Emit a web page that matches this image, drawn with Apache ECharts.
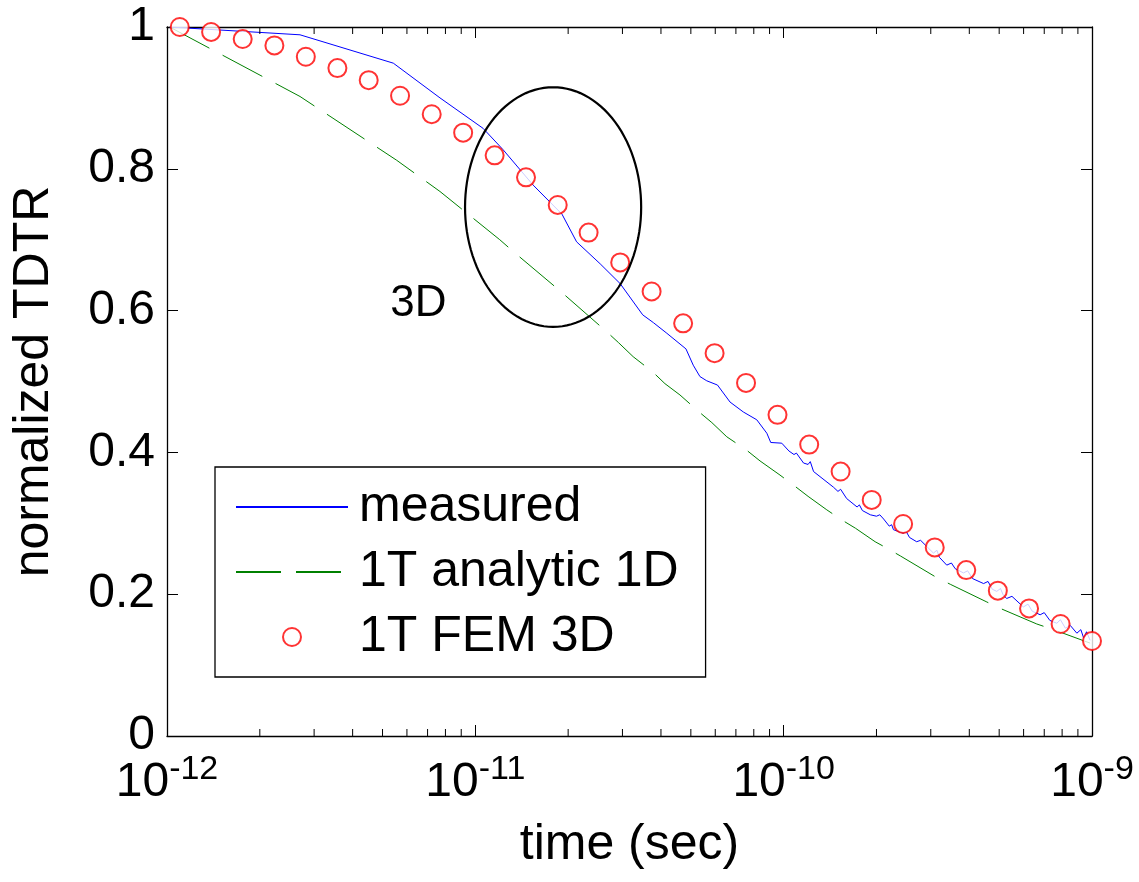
<!DOCTYPE html>
<html>
<head>
<meta charset="utf-8">
<title>normalized TDTR</title>
<script src="https://cdn.jsdelivr.net/npm/echarts@6/dist/echarts.min.js"></script>
<style>
  html, body { margin: 0; padding: 0; background: #fff; }
  #chart { width: 1139px; height: 882px; }
</style>
</head>
<body>
<div id="chart"></div>
<script>
var FONT = '"Liberation Sans", Arial, Helvetica, sans-serif';

// measured TDTR trace (time in s, normalized signal)
var measuredTime = [1.02e-12, 2.70e-12, 5.42e-12, 7.68e-12, 1.06e-11, 1.23e-11, 1.54e-11, 1.91e-11, 2.13e-11, 2.54e-11,
  2.95e-11, 3.49e-11, 3.78e-11, 4.18e-11, 4.82e-11, 5.09e-11, 5.35e-11, 5.63e-11, 6.10e-11, 6.70e-11,
  7.40e-11, 8.18e-11, 8.82e-11, 9.08e-11, 9.86e-11, 1.04e-10, 1.08e-10, 1.10e-10, 1.16e-10, 1.20e-10,
  1.22e-10, 1.25e-10, 1.45e-10, 1.50e-10, 1.53e-10, 1.60e-10, 1.73e-10, 1.76e-10, 1.80e-10, 1.91e-10,
  2.00e-10, 2.05e-10, 2.11e-10, 2.20e-10, 2.24e-10, 2.27e-10, 2.44e-10, 2.50e-10, 2.56e-10, 2.70e-10,
  2.78e-10, 3.06e-10, 3.14e-10, 3.20e-10, 3.38e-10, 3.50e-10, 3.60e-10, 3.83e-10, 3.95e-10, 4.10e-10,
  4.45e-10, 4.60e-10, 4.75e-10, 4.91e-10, 5.05e-10, 5.15e-10, 5.29e-10, 5.50e-10, 5.99e-10, 6.20e-10,
  6.40e-10, 6.79e-10, 7.00e-10, 7.30e-10, 7.69e-10, 7.90e-10, 8.20e-10, 8.50e-10, 8.93e-10, 9.20e-10,
  9.40e-10, 9.60e-10, 9.86e-10];
var measuredValue = [1.000, 0.989, 0.949, 0.900, 0.857, 0.827, 0.777, 0.736, 0.697, 0.666,
  0.638, 0.594, 0.583, 0.568, 0.546, 0.523, 0.507, 0.501, 0.495, 0.471,
  0.457, 0.446, 0.427, 0.414, 0.413, 0.402, 0.397, 0.399, 0.385, 0.383,
  0.387, 0.373, 0.351, 0.345, 0.348, 0.335, 0.323, 0.326, 0.318, 0.312,
  0.310, 0.312, 0.306, 0.296, 0.298, 0.291, 0.286, 0.288, 0.280, 0.274,
  0.276, 0.258, 0.262, 0.252, 0.241, 0.244, 0.236, 0.230, 0.233, 0.222,
  0.215, 0.218, 0.207, 0.204, 0.208, 0.199, 0.194, 0.197, 0.182, 0.186,
  0.176, 0.171, 0.174, 0.163, 0.159, 0.164, 0.152, 0.156, 0.145, 0.150,
  0.138, 0.147, 0.135];

// 1T analytic 1D model
var analyticTime = [1.02e-12, 2.70e-12, 5.56e-12, 7.68e-12, 1.20e-11, 1.33e-11, 1.88e-11, 2.67e-11, 2.91e-11, 3.25e-11,
  3.75e-11, 4.12e-11, 4.61e-11, 5.32e-11, 5.85e-11, 6.54e-11, 7.59e-11, 8.38e-11, 9.73e-11, 1.09e-10,
  1.20e-10, 1.38e-10, 1.54e-10, 1.71e-10, 1.98e-10, 2.16e-10, 2.39e-10, 3.12e-10, 3.47e-10, 4.56e-10,
  5.04e-10, 6.62e-10, 7.50e-10, 9.86e-10];
var analyticValue = [1.000, 0.902, 0.812, 0.768, 0.700, 0.683, 0.628, 0.570, 0.555, 0.535,
  0.514, 0.497, 0.481, 0.457, 0.442, 0.422, 0.403, 0.388, 0.368, 0.352,
  0.338, 0.319, 0.305, 0.293, 0.274, 0.265, 0.254, 0.224, 0.214, 0.189,
  0.180, 0.158, 0.150, 0.131];

// 1T FEM 3D model
var femTime = [1.10e-12, 1.39e-12, 1.76e-12, 2.23e-12, 2.82e-12, 3.57e-12, 4.51e-12, 5.70e-12, 7.22e-12, 9.13e-12,
  1.155e-11, 1.46e-11, 1.85e-11, 2.33e-11, 2.95e-11, 3.73e-11, 4.72e-11, 5.97e-11, 7.55e-11, 9.55e-11,
  1.21e-10, 1.53e-10, 1.93e-10, 2.44e-10, 3.09e-10, 3.91e-10, 4.95e-10, 6.25e-10, 7.91e-10, 1.0e-9];
var femValue = [1.000, 0.993, 0.983, 0.974, 0.958, 0.942, 0.925, 0.903, 0.877, 0.851,
  0.819, 0.788, 0.749, 0.710, 0.668, 0.627, 0.582, 0.540, 0.498, 0.453,
  0.411, 0.373, 0.333, 0.299, 0.266, 0.234, 0.205, 0.180, 0.158, 0.134];

// minor log ticks (2..9 of each decade)
var minorTicks = [2e-12, 3e-12, 4e-12, 5e-12, 6e-12, 7e-12, 8e-12, 9e-12,
  2e-11, 3e-11, 4e-11, 5e-11, 6e-11, 7e-11, 8e-11, 9e-11,
  2e-10, 3e-10, 4e-10, 5e-10, 6e-10, 7e-10, 8e-10, 9e-10];

// "3D" annotation ellipse: center, x extent, y extent in data units
var ellipseCenter = [1.79e-11, 0.746];
var ellipseXRange = [9.26e-12, 3.45e-11];
var ellipseYRange = [0.577, 0.915];
var noteLabel = '3D';
var notePos = [6.54e-12, 0.609];

function zip(a, b) { return a.map(function(v, i) { return [v, b[i]]; }); }

var chart = echarts.init(document.getElementById('chart'), null, { renderer: 'canvas' });

var axisLine = { show: true, onZero: false, lineStyle: { color: '#000', width: 1.3 } };
var tickStyle = { show: true, inside: true, length: 11, lineStyle: { color: '#000', width: 1 } };

chart.setOption({
  animation: false,
  backgroundColor: '#fff',
  textStyle: { fontFamily: FONT },
  grid: { left: 167, right: 47, top: 27, bottom: 146, containLabel: false },
  legend: {
    orient: 'vertical',
    left: 215,
    top: 467,
    data: [
      { name: 'measured', itemStyle: { opacity: 0 } },
      { name: '1T analytic 1D', itemStyle: { opacity: 0 } },
      { name: '1T FEM 3D' }
    ],
    itemWidth: 112,
    itemHeight: 18,
    itemGap: 15,
    padding: [15, 27, 15, 20],
    borderColor: '#000',
    borderWidth: 1.3,
    backgroundColor: '#fff',
    selectedMode: false,
    textStyle: { fontSize: 50, color: '#000', fontFamily: FONT, lineHeight: 50, padding: [0, 0, 0, 6] }
  },
  xAxis: [{
    type: 'log',
    logBase: 10,
    min: 1e-12,
    max: 1e-9,
    position: 'bottom',
    axisLine: axisLine,
    axisTick: tickStyle,
    splitLine: { show: false },
    axisLabel: {
      margin: 17,
      color: '#000',
      formatter: function(v) {
        var e = Math.round(Math.log10(v));
        return '{b|10}{s|' + e + '}';
      },
      rich: {
        b: { fontSize: 48, fontFamily: FONT, color: '#000', lineHeight: 48, padding: [12, 0, 0, 0] },
        s: { fontSize: 34, fontFamily: FONT, color: '#000', lineHeight: 34, verticalAlign: 'top' }
      }
    },
    name: 'time (sec)',
    nameLocation: 'middle',
    nameGap: 84,
    nameTextStyle: { fontSize: 50, color: '#000', fontFamily: FONT }
  }, {
    type: 'log',
    logBase: 10,
    min: 1e-12,
    max: 1e-9,
    position: 'top',
    axisLine: axisLine,
    axisTick: tickStyle,
    axisLabel: { show: false },
    splitLine: { show: false }
  }],
  yAxis: [{
    type: 'value',
    min: 0,
    max: 1,
    interval: 0.2,
    position: 'left',
    axisLine: axisLine,
    axisTick: tickStyle,
    splitLine: { show: false },
    axisLabel: { fontSize: 48, color: '#000', margin: 12, fontFamily: FONT },
    name: 'normalized TDTR',
    nameLocation: 'middle',
    nameGap: 108,
    nameTextStyle: { fontSize: 50, color: '#000', fontFamily: FONT }
  }, {
    type: 'value',
    min: 0,
    max: 1,
    interval: 0.2,
    position: 'right',
    axisLine: axisLine,
    axisTick: tickStyle,
    axisLabel: { show: false },
    splitLine: { show: false }
  }],
  series: [{
    name: 'minor ticks',
    type: 'custom',
    silent: true,
    z: 5,
    data: minorTicks.map(function(t) { return [t, 0]; }),
    encode: { x: 0, y: 1 },
    clip: false,
    renderItem: function(params, api) {
      var cs = params.coordSys;
      var x = api.coord([api.value(0), 0])[0];
      var st = { stroke: '#000', lineWidth: 1 };
      return {
        type: 'group',
        children: [
          { type: 'line', shape: { x1: x, y1: cs.y + cs.height, x2: x, y2: cs.y + cs.height - 7 }, style: st },
          { type: 'line', shape: { x1: x, y1: cs.y, x2: x, y2: cs.y + 7 }, style: st }
        ]
      };
    }
  }, {
    name: '1T analytic 1D',
    type: 'line',
    data: zip(analyticTime, analyticValue),
    symbol: 'none',
    z: 2,
    lineStyle: { color: '#008000', width: 1, type: [45, 15] },
    itemStyle: { color: '#008000' }
  }, {
    name: 'measured',
    type: 'line',
    data: zip(measuredTime, measuredValue),
    symbol: 'none',
    z: 3,
    lineStyle: { color: '#0000ff', width: 1 },
    itemStyle: { color: '#0000ff' }
  }, {
    name: '1T FEM 3D',
    type: 'scatter',
    data: zip(femTime, femValue),
    symbol: 'emptyCircle',
    symbolSize: 18,
    z: 4,
    itemStyle: { color: '#ff0000', borderColor: '#ff0000', borderWidth: 1.2 }
  }, {
    name: 'annotation',
    type: 'custom',
    silent: true,
    z: 6,
    clip: false,
    data: [[ellipseCenter[0], ellipseCenter[1]]],
    encode: { x: 0, y: 1 },
    renderItem: function(params, api) {
      var l = api.coord([ellipseXRange[0], ellipseCenter[1]]);
      var r = api.coord([ellipseXRange[1], ellipseCenter[1]]);
      var t = api.coord([ellipseCenter[0], ellipseYRange[1]]);
      var b = api.coord([ellipseCenter[0], ellipseYRange[0]]);
      var cx = (l[0] + r[0]) / 2, cy = (t[1] + b[1]) / 2;
      var rx = (r[0] - l[0]) / 2, ry = (b[1] - t[1]) / 2;
      var pts = [];
      for (var i = 0; i < 120; i++) {
        var a = i / 120 * Math.PI * 2;
        pts.push([cx + rx * Math.cos(a), cy + ry * Math.sin(a)]);
      }
      var np = api.coord(notePos);
      return {
        type: 'group',
        children: [
          { type: 'polygon', shape: { points: pts }, style: { fill: null, stroke: '#000', lineWidth: 2.2 } },
          { type: 'text', x: np[0], y: np[1], style: { text: noteLabel, fontSize: 44, fontFamily: FONT, fill: '#000', align: 'center', verticalAlign: 'middle' } }
        ]
      };
    }
  }]
});
</script>
</body>
</html>
